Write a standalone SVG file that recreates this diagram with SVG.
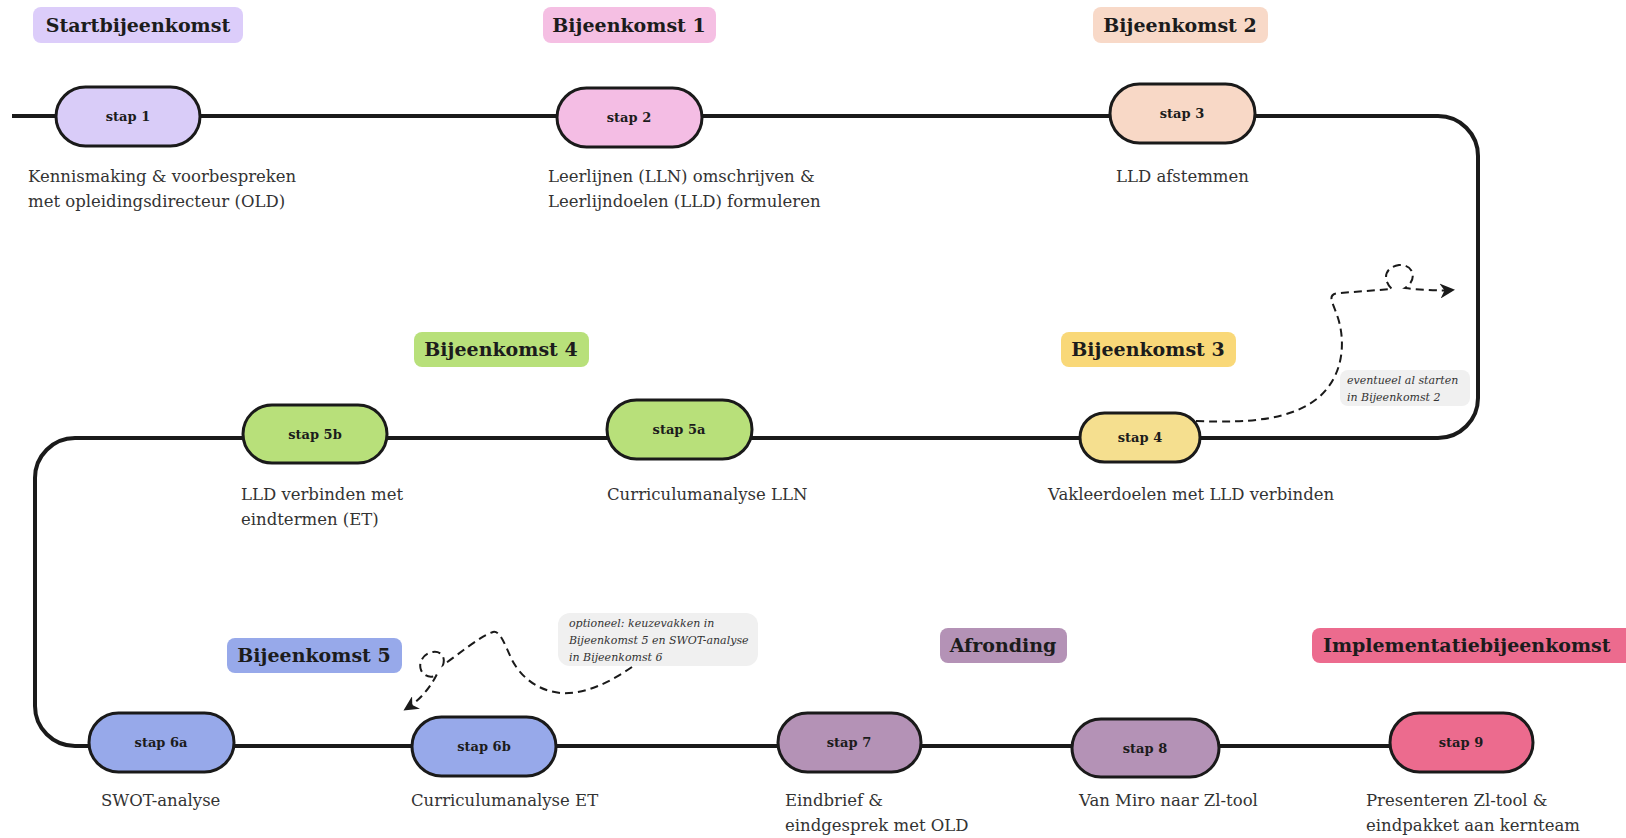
<svg xmlns="http://www.w3.org/2000/svg" width="1626" height="838" viewBox="0 0 1626 838">
<defs>
<style>
.lbl{font-family:"DejaVu Serif","Liberation Serif",serif;font-weight:bold;font-size:19px;fill:#1c1c1c;text-anchor:middle}
.pill{stroke:#1a1a1a;stroke-width:3}
.ptx{font-family:"DejaVu Serif","Liberation Serif",serif;font-weight:bold;font-size:13px;fill:#1c1c1c;text-anchor:middle}
.desc{font-family:"DejaVu Serif","Liberation Serif",serif;font-size:16.5px;fill:#333}
.note{font-family:"DejaVu Serif","Liberation Serif",serif;font-style:italic;font-size:11px;fill:#333}
.dash{fill:none;stroke:#1a1a1a;stroke-width:2;stroke-dasharray:8 5}
</style>
<marker id="ah" viewBox="0 0 10 10" refX="8" refY="5" markerUnits="userSpaceOnUse" markerWidth="15" markerHeight="15" orient="auto">
<path d="M0,0 L10,5 L0,10 L3,5 z" fill="#1a1a1a"/>
</marker>
</defs>
<rect width="1626" height="838" fill="#ffffff"/>

<g id="connectors">
<path d="M 12 116 H 1438 A 40 40 0 0 1 1478 156 V 398 A 40 40 0 0 1 1438 438 H 75 A 40 40 0 0 0 35 478 V 706 A 40 40 0 0 0 75 746 H 1390" fill="none" stroke="#1a1a1a" stroke-width="4"/>
<path class="dash" marker-end="url(#ah)" d="M 1196 421 C 1250 423, 1290 420, 1318 398 C 1345 375, 1345 340, 1338 318 C 1332 300, 1326 294, 1340 293 L 1392 289 C 1384 282, 1382 268, 1399 265 C 1414 264, 1418 280, 1405 288 C 1420 290, 1440 291, 1452 290"/>
<path class="dash" marker-end="url(#ah)" d="M 632 667 C 610 682, 585 695, 560 693 C 535 690, 520 675, 512 660 C 505 645, 500 630, 493 632 C 480 636, 458 655, 443 665 C 446 656, 440 651, 433 652 C 424 653, 418 662, 421 670 C 424 677, 433 679, 437 674 C 430 688, 420 700, 406 709"/>
</g>

<g id="label-start"><rect x="33" y="7" width="210" height="36" rx="8" fill="#dccdfa"/><text class="lbl" x="138" y="32">Startbijeenkomst</text></g>
<g id="label-b1"><rect x="543" y="7" width="173" height="36" rx="8" fill="#f5bfe3"/><text class="lbl" x="629" y="32">Bijeenkomst 1</text></g>
<g id="label-b2"><rect x="1093" y="7" width="175" height="36" rx="8" fill="#f8d9c8"/><text class="lbl" x="1180" y="32">Bijeenkomst 2</text></g>
<g id="label-b3"><rect x="1061" y="332" width="175" height="35" rx="8" fill="#f9d878"/><text class="lbl" x="1148" y="356">Bijeenkomst 3</text></g>
<g id="label-b4"><rect x="414" y="332" width="175" height="35" rx="8" fill="#b8e07a"/><text class="lbl" x="501" y="356">Bijeenkomst 4</text></g>
<g id="label-b5"><rect x="227" y="638" width="175" height="35" rx="8" fill="#97a9ea"/><text class="lbl" x="314" y="662">Bijeenkomst 5</text></g>
<g id="label-afronding"><rect x="940" y="628" width="127" height="35" rx="8" fill="#b492b6"/><text class="lbl" x="1003" y="652">Afronding</text></g>
<g id="label-impl"><rect x="1312" y="628" width="330" height="35" rx="8" fill="#ec6b8e"/><text class="lbl" x="1323" y="652" style="text-anchor:start">Implementatiebijeenkomst</text></g>

<g id="stap1"><rect class="pill" x="56" y="87" width="144" height="59" rx="29.5" fill="#d9ccf8"/><text class="ptx" x="128" y="121">stap 1</text>
<text class="desc" x="28" y="182">Kennismaking &amp; voorbespreken</text><text class="desc" x="28" y="207">met opleidingsdirecteur (OLD)</text></g>
<g id="stap2"><rect class="pill" x="557" y="88" width="145" height="59" rx="29.5" fill="#f4bde4"/><text class="ptx" x="629" y="122">stap 2</text>
<text class="desc" x="548" y="182">Leerlijnen (LLN) omschrijven &amp;</text><text class="desc" x="548" y="207">Leerlijndoelen (LLD) formuleren</text></g>
<g id="stap3"><rect class="pill" x="1110" y="84" width="145" height="59" rx="29.5" fill="#f8d8c6"/><text class="ptx" x="1182" y="118">stap 3</text>
<text class="desc" x="1116" y="182">LLD afstemmen</text></g>
<g id="stap4"><rect class="pill" x="1080" y="413" width="120" height="49" rx="24.5" fill="#f5df8f"/><text class="ptx" x="1140" y="442">stap 4</text>
<text class="desc" x="1048" y="500">Vakleerdoelen met LLD verbinden</text></g>
<g id="stap5a"><rect class="pill" x="607" y="400" width="145" height="59" rx="29.5" fill="#b8e07a"/><text class="ptx" x="679" y="434">stap 5a</text>
<text class="desc" x="607" y="500">Curriculumanalyse LLN</text></g>
<g id="stap5b"><rect class="pill" x="243" y="405" width="144" height="58" rx="29" fill="#b8e07a"/><text class="ptx" x="315" y="439">stap 5b</text>
<text class="desc" x="241" y="500">LLD verbinden met</text><text class="desc" x="241" y="525">eindtermen (ET)</text></g>
<g id="stap6a"><rect class="pill" x="89" y="713" width="145" height="59" rx="29.5" fill="#97a9ea"/><text class="ptx" x="161" y="747">stap 6a</text>
<text class="desc" x="101" y="806">SWOT-analyse</text></g>
<g id="stap6b"><rect class="pill" x="412" y="717" width="144" height="59" rx="29.5" fill="#97a9ea"/><text class="ptx" x="484" y="751">stap 6b</text>
<text class="desc" x="411" y="806">Curriculumanalyse ET</text></g>
<g id="stap7"><rect class="pill" x="778" y="713" width="143" height="59" rx="29.5" fill="#b492b6"/><text class="ptx" x="849" y="747">stap 7</text>
<text class="desc" x="785" y="806">Eindbrief &amp;</text><text class="desc" x="785" y="831">eindgesprek met OLD</text></g>
<g id="stap8"><rect class="pill" x="1072" y="719" width="147" height="58" rx="29" fill="#b492b6"/><text class="ptx" x="1145" y="753">stap 8</text>
<text class="desc" x="1079" y="806">Van Miro naar Zl-tool</text></g>
<g id="stap9"><rect class="pill" x="1390" y="713" width="143" height="59" rx="29.5" fill="#ec6b8e"/><text class="ptx" x="1461" y="747">stap 9</text>
<text class="desc" x="1366" y="806">Presenteren Zl-tool &amp;</text><text class="desc" x="1366" y="831">eindpakket aan kernteam</text></g>

<g id="note1"><rect x="1340" y="370" width="130" height="36" rx="8" fill="#f0f0f0"/>
<text class="note" x="1347" y="384">eventueel al starten</text><text class="note" x="1347" y="401">in Bijeenkomst 2</text></g>
<g id="note2"><rect x="558" y="613" width="200" height="53" rx="12" fill="#f0f0f0"/>
<text class="note" x="569" y="627">optioneel: keuzevakken in</text><text class="note" x="569" y="644">Bijeenkomst 5 en SWOT-analyse</text><text class="note" x="569" y="661">in Bijeenkomst 6</text></g>
</svg>
